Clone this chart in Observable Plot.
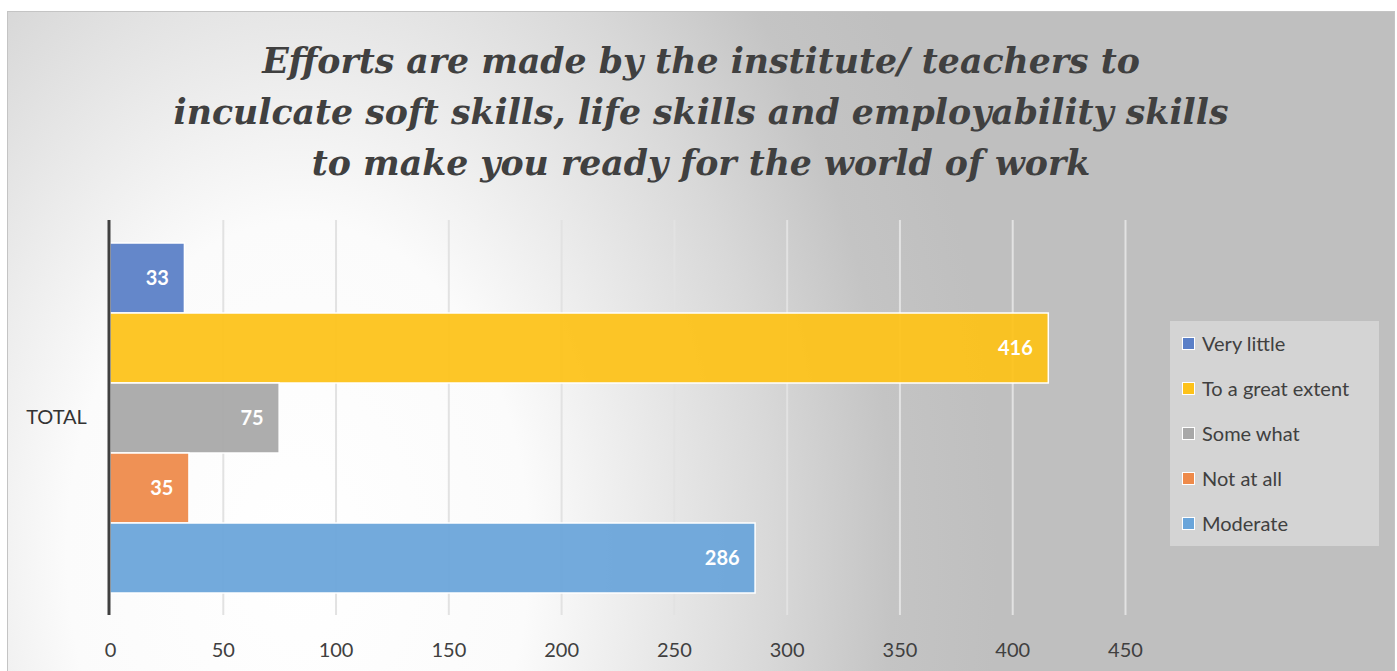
<!DOCTYPE html>
<html>
<head>
<meta charset="utf-8">
<script src="https://cdn.jsdelivr.net/npm/d3@7"></script>
<script src="https://cdn.jsdelivr.net/npm/@observablehq/plot@0.6"></script>
<style>
  html, body { margin: 0; padding: 0; background: #ffffff; }
  #root { position: relative; width: 1397px; height: 671px; overflow: hidden; font-family: Lato, "Open Sans", sans-serif; }
  #frame { position: absolute; left: 7px; top: 11px; width: 1386px; height: 670px; border: 1px solid #c4c4c4;
    background: radial-gradient(ellipse 700px 1000px at 290px 540px, #ffffff 0%, #fbfbfb 33%, #d8d8d8 68%, #c4c4c4 85%, #bfbfbf 100%); }
  #title { position: absolute; left: 0; top: 35px; width: 1402px; text-align: center; font-family: "DejaVu Serif", serif;
    font-weight: bold; font-style: italic; font-size: 34.7px; line-height: 51px; color: #404040; }
  #chart { position: absolute; left: 0; top: 200px; }
  #legend { position: absolute; left: 1170px; top: 321px; width: 209px; height: 225px; background: #d4d4d4; }
  .item { position: absolute; left: 12px; height: 24px; display: flex; align-items: center; font-size: 20px; color: #404040; }
  .sw { width: 11px; height: 11px; border: 1px solid #ffffff; margin-right: 7px; }
</style>
</head>
<body>
<div id="root">
  <div id="frame"></div>
  <div id="title">Efforts are made by the institute/ teachers to<br>inculcate soft skills, life skills and employability skills<br>to make you ready for the world of work</div>
  <div id="chart"></div>
  <div id="legend"></div>
</div>
<script>
const series = ["Very little", "To a great extent", "Some what", "Not at all", "Moderate"];
const values = [33, 416, 75, 35, 286];
const xTicks = [0, 50, 100, 150, 200, 250, 300, 350, 400, 450];
const category = "TOTAL";
const colors = ["#5a7fc7", "#fdc21a", "#a8a8a8", "#ee8a4a", "#6aa5da"];

const data = series.map((s, i) => ({series: s, value: values[i]}));

const chart = Plot.plot({
  width: 1397,
  height: 471,
  marginLeft: 110,
  marginRight: 272,
  marginTop: 20,
  marginBottom: 56,
  style: {background: "transparent", fontFamily: "Lato, 'Open Sans', sans-serif", fontSize: "20px", color: "#404040"},
  x: {domain: [0, 450], axis: null},
  y: {domain: series, axis: null, paddingInner: 0, paddingOuter: 0.305},
  color: {domain: series, range: colors},
  marks: [
    Plot.ruleX(xTicks.filter(t => t > 0), {stroke: "#e2e2e2", strokeWidth: 2}),
    Plot.barX(data, {x: "value", y: "series", fill: "series", fillOpacity: 0.94, stroke: "#ffffff", strokeWidth: 1.5}),
    Plot.text(data, {x: "value", y: "series", text: d => String(d.value), textAnchor: "end", dx: -16,
      fill: "#ffffff", fontWeight: "bold", fontSize: 20}),
    Plot.ruleX([0], {stroke: "#404040", strokeWidth: 3, dx: -1.5}),
    Plot.axisX(xTicks, {tickSize: 0, tickPadding: 27, fontSize: 20, fill: "#404040", label: null}),
    Plot.text([category], {frameAnchor: "left", dx: -54, textAnchor: "middle", fontSize: 20, fill: "#333333"})
  ]
});
document.getElementById("chart").appendChild(chart);

const legend = document.getElementById("legend");
series.forEach((s, i) => {
  const it = document.createElement("div");
  it.className = "item";
  it.style.top = (10 + i * 45) + "px";
  const sw = document.createElement("span");
  sw.className = "sw";
  sw.style.background = colors[i];
  const tx = document.createElement("span");
  tx.textContent = s;
  it.appendChild(sw);
  it.appendChild(tx);
  legend.appendChild(it);
});
</script>
</body>
</html>
